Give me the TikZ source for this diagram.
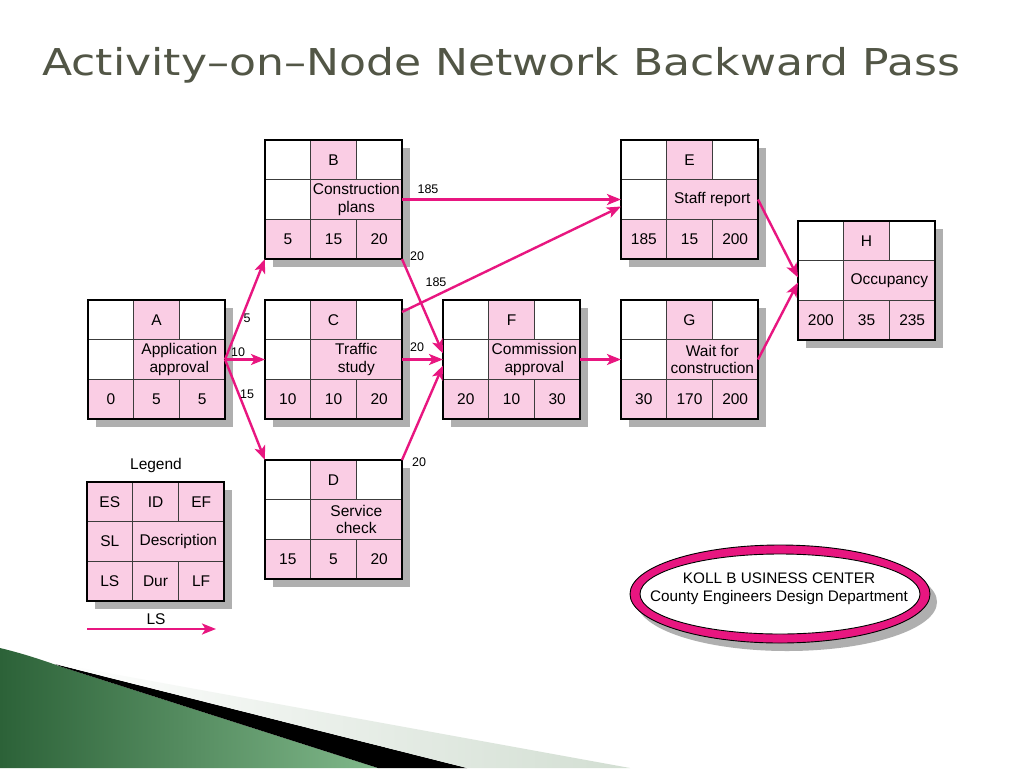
\documentclass[tikz,border=0pt]{standalone}
\usepackage{graphicx}
\usepackage{fontspec}
\setmainfont{Liberation Sans}
\newfontfamily\titlefont{DejaVu Sans}
\usetikzlibrary{arrows.meta,positioning,fit,shapes.geometric}
\definecolor{pinkc}{RGB}{250,205,228}
\definecolor{magc}{RGB}{232,22,128}
\definecolor{shadowc}{RGB}{175,175,175}
\definecolor{titlec}{RGB}{82,86,70}
\definecolor{lineg}{RGB}{60,60,60}
\definecolor{dkgreen}{RGB}{44,98,56}
\definecolor{ltgreen}{RGB}{128,184,138}
\definecolor{ltband}{RGB}{210,222,210}
\tikzset{
 cell/.style={rectangle, minimum width=45.67pt, minimum height=39.67pt, inner sep=0pt, outer sep=0pt,
   draw=lineg, line width=0.8pt, font=\fontsize{15.5}{17.5}\selectfont, align=center},
 wcell/.style={cell, minimum width=91.33pt},
 frame/.style={rectangle, draw=black, line width=1.7pt, inner sep=0pt, outer sep=0pt},
 arr/.style={draw=magc, line width=2.4pt, -{Stealth[length=14pt,width=11pt,inset=3.5pt]}},
 lbl/.style={font=\fontsize{12.5}{14}\selectfont, inner sep=0pt},
 txt/.style={font=\fontsize{15.5}{17.5}\selectfont, inner sep=0pt, align=center},
}
% #1 name, #2 x, #3 y (top-left), #4 outer-cell fill, #5 tl, #6 id, #7 tr, #8 ml, #9 desc
\newcommand\aon[9]{%
 \fill[shadowc] ({#2+8},{#3+8}) rectangle ++(137,119);
 \node[cell,#4] (#1-tl) at ({#2+22.83},{#3+19.83}) {#5};
 \node[cell,fill=pinkc] (#1-id) at ({#2+68.5},{#3+19.83}) {#6};
 \node[cell,#4] (#1-tr) at ({#2+114.17},{#3+19.83}) {#7};
 \node[cell,#4] (#1-ml) at ({#2+22.83},{#3+59.5}) {#8};
 \node[wcell,fill=pinkc] (#1-desc) at ({#2+91.33},{#3+59.5}) {#9};
}
% #1 name, #2 x, #3 y, #4 #5 #6 bottom row
\newcommand\aonlow[6]{%
 \node[cell,fill=pinkc] (#1-ls) at ({#2+22.83},{#3+99.17}) {#4};
 \node[cell,fill=pinkc] (#1-du) at ({#2+68.5},{#3+99.17}) {#5};
 \node[cell,fill=pinkc] (#1-lf) at ({#2+114.17},{#3+99.17}) {#6};
 \node[frame,fit=(#1-tl)(#1-lf)] (#1) {};
}
\begin{document}
\begin{tikzpicture}[x=1pt,y=-1pt]
\useasboundingbox (0,0) rectangle (1024,768);
\fill[white] (0,0) rectangle (1024,768);
% decoration bottom-left
\shade[left color=dkgreen, right color=ltgreen] (0,648) .. controls (25,654) and (45,661) .. (62,667) -- (378,768) -- (0,768) -- cycle;
\fill[black] (55,664) -- (467,768) -- (378,768) -- (62,667) -- cycle;
\shade[left color=white, right color=ltband] (80,668) -- (630,768) -- (467,768) -- (55,664) -- cycle;
% title
\node[anchor=base west, font=\titlefont\fontsize{37}{40}\selectfont, text=titlec, inner sep=0pt] (title) at (42,75) {\resizebox{918pt}{\height}{Activity–on–Node Network Backward Pass}};
% nodes
\aon{A}{88}{300}{fill=white}{}{A}{}{}{Application\\approval}
\aonlow{A}{88}{300}{0}{5}{5}
\aon{B}{265}{140}{fill=white}{}{B}{}{}{Construction\\plans}
\aonlow{B}{265}{140}{5}{15}{20}
\aon{C}{265}{300}{fill=white}{}{C}{}{}{Traffic\\study}
\aonlow{C}{265}{300}{10}{10}{20}
\aon{D}{265}{460}{fill=white}{}{D}{}{}{Service\\check}
\aonlow{D}{265}{460}{15}{5}{20}
\aon{E}{621}{140}{fill=white}{}{E}{}{}{Staff report}
\aonlow{E}{621}{140}{185}{15}{200}
\aon{F}{443}{300}{fill=white}{}{F}{}{}{Commission\\approval}
\aonlow{F}{443}{300}{20}{10}{30}
\aon{G}{621}{300}{fill=white}{}{G}{}{}{Wait for\\construction}
\aonlow{G}{621}{300}{30}{170}{200}
\aon{H}{798}{221}{fill=white}{}{H}{}{}{Occupancy}
\aonlow{H}{798}{221}{200}{35}{235}
% legend
\node[txt] (legt) at (156,465) {Legend};
\aon{L}{87}{482}{fill=pinkc}{ES}{ID}{EF}{SL}{Description}
\aonlow{L}{87}{482}{LS}{Dur}{LF}
\coordinate (lgs) at (87,629);
\coordinate (lge) at (216,629);
\draw[arr] (lgs) -- (lge);
\node[txt] (lst) at (156,619) {LS};
% edges
\draw[arr] (A.east) -- (B.south west);
\draw[arr] (A.east) -- (C.west);
\draw[arr] (A.east) -- (D.north west);
\draw[arr] (B.east) -- (E.west);
\draw[arr] (B.south east) -- ([yshift=6pt]F.west);
\draw[arr] ([yshift=-12pt]C.north east) -- ([yshift=-7pt]E.west);
\draw[arr] (C.east) -- (F.west);
\draw[arr] (D.north east) -- ([yshift=-6pt]F.west);
\draw[arr] (F.east) -- (G.west);
\draw[arr] (E.east) -- ([yshift=3pt]H.west);
\draw[arr] (G.east) -- ([yshift=-2pt]H.west);
% labels
\node[lbl] (l5) at (247,318) {5};
\node[lbl] (l10) at (238,352) {10};
\node[lbl] (l15) at (247,394) {15};
\node[lbl] (lbe) at (428,189) {185};
\node[lbl] (lbf) at (417,256) {20};
\node[lbl] (lce) at (436,282) {185};
\node[lbl] (lcf) at (417,347) {20};
\node[lbl] (ldf) at (419,462) {20};
% logo
\fill[shadowc] (787,602) ellipse [x radius=150pt, y radius=49pt];
\node[ellipse, draw=black, line width=0.9pt, fill=magc, minimum width=300pt, minimum height=98pt, inner sep=0pt] (logo) at (780,594) {};
\node[ellipse, draw=black, line width=0.9pt, fill=white, minimum width=280pt, minimum height=80pt, inner sep=0pt] (logoin) at (780,594) {};
\node[font=\fontsize{15.3}{18}\selectfont, align=center, inner sep=0pt] (logotext) at (779,589) {KOLL B USINESS CENTER\\County Engineers Design Department};
\end{tikzpicture}
\end{document}
